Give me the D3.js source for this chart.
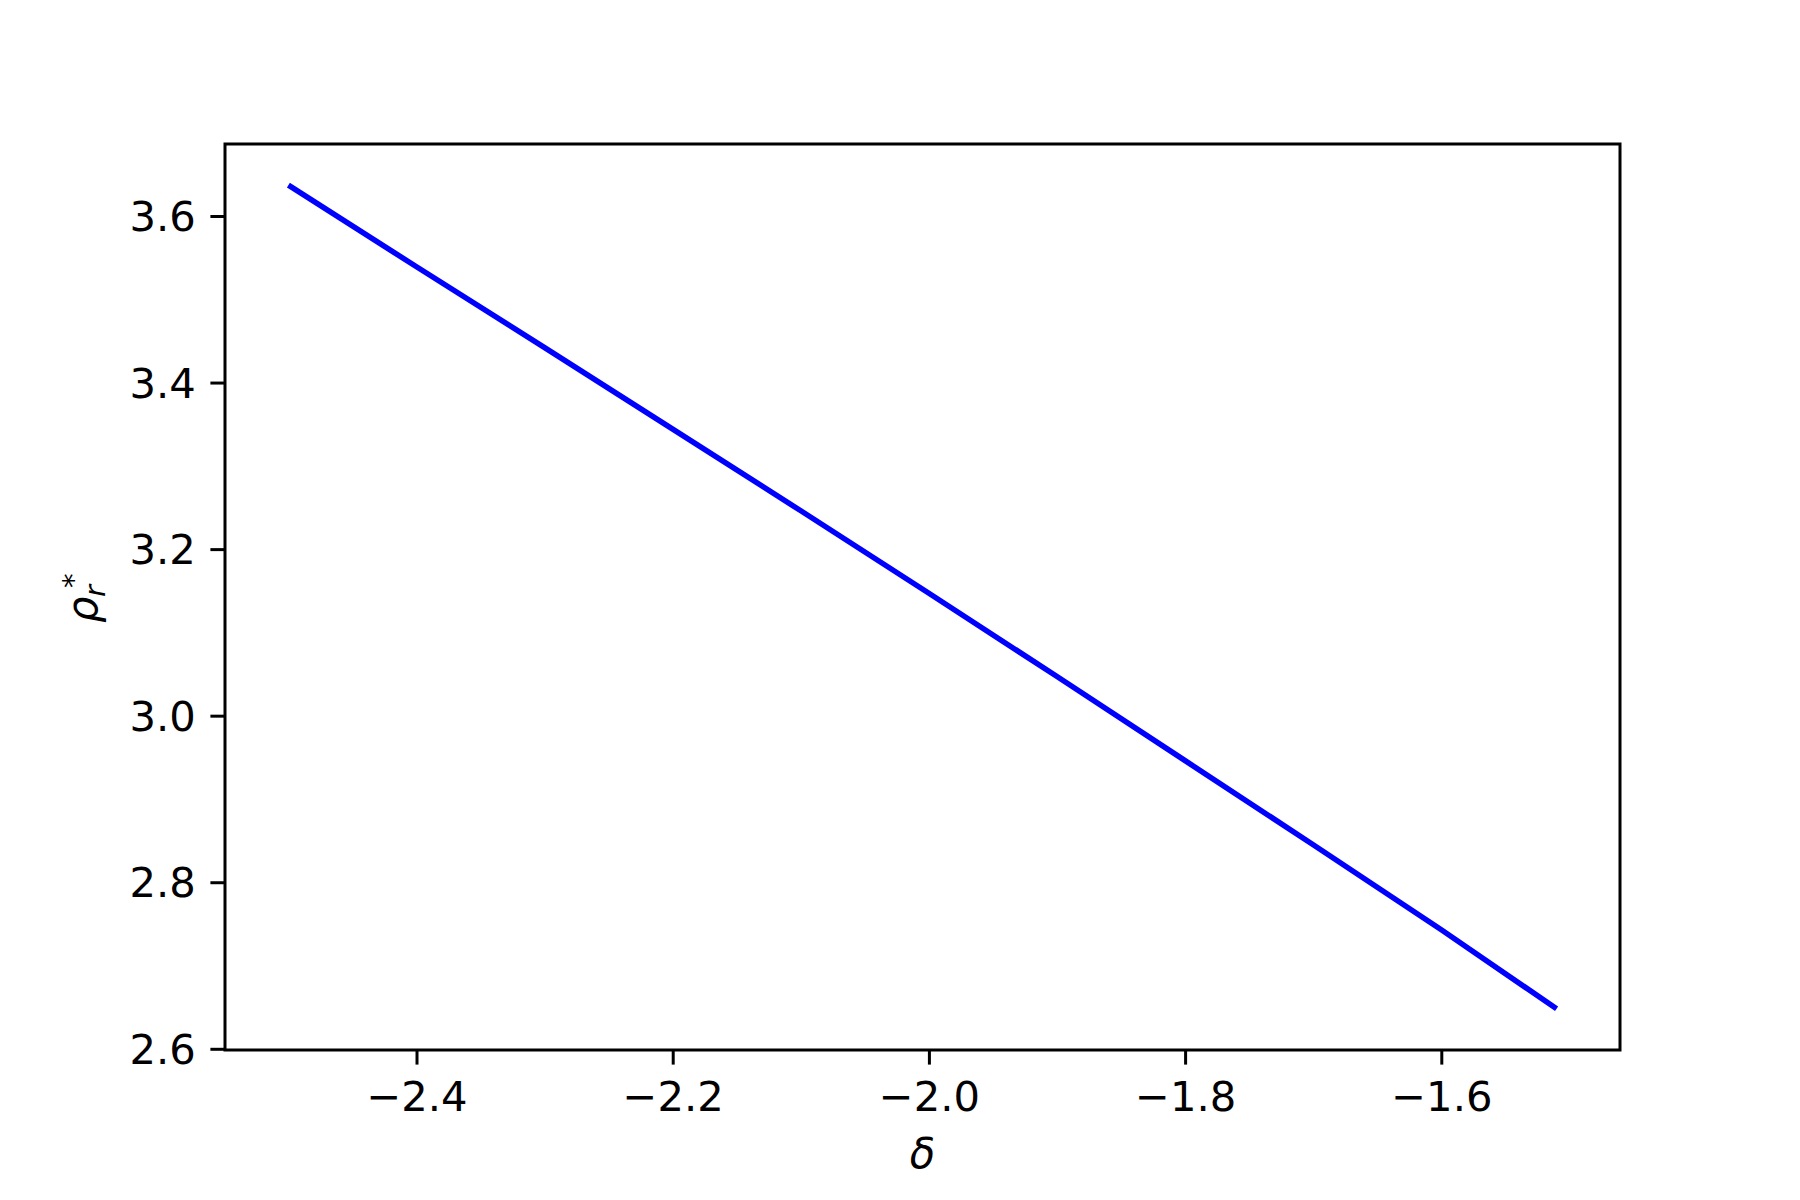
<!DOCTYPE html>
<html>
<head>
<meta charset="utf-8">
<script src="https://cdn.jsdelivr.net/npm/d3@7"></script>
<style>
  html, body { margin: 0; padding: 0; background: #fff; }
  svg { display: block; }
  text { font-family: "DejaVu Sans", sans-serif; fill: #000; }
</style>
</head>
<body>
<svg id="chart" width="1800" height="1200"></svg>
<script>
// Data
const deltaValues = [-2.5, -2.4, -2.3, -2.2, -2.1, -2.0, -1.9, -1.8, -1.7, -1.6, -1.51];
const rhoValues   = [3.637, 3.539, 3.442, 3.344, 3.246, 3.147, 3.047, 2.946, 2.845, 2.743, 2.648];
const xTicks = [-2.4, -2.2, -2.0, -1.8, -1.6];
const yTicks = [2.6, 2.8, 3.0, 3.2, 3.4, 3.6];

(function () {
const W = 1800, H = 1200;
const mLeft = 225, mRight = 1620, mTop = 144, mBottom = 1050;
const fs = 41.7;

const svg = d3.select("#chart");
svg.append("rect").attr("width", W).attr("height", H).attr("fill", "#fff");

function padded(arr) {
  const [a, b] = d3.extent(arr);
  const m = (b - a) * 0.05;
  return [a - m, b + m];
}

const x = d3.scaleLinear().domain(padded(deltaValues)).range([mLeft, mRight]);
const y = d3.scaleLinear().domain(padded(rhoValues)).range([mBottom, mTop]);

const fmt = d => d3.format(".1f")(d).replace("-", "\u2212");

// data line
const pts = deltaValues.map((d, i) => [d, rhoValues[i]]);
svg.append("path")
  .datum(pts)
  .attr("fill", "none")
  .attr("stroke", "#0000ff")
  .attr("stroke-width", 5.5)
  .attr("stroke-linecap", "butt")
  .attr("stroke-linejoin", "round")
  .attr("d", d3.line().x(d => x(d[0])).y(d => y(d[1])));

// axes
const xAxis = d3.axisBottom(x).tickValues(xTicks).tickFormat(fmt).tickSize(14.6).tickPadding(14.6);
const yAxis = d3.axisLeft(y).tickValues(yTicks).tickFormat(fmt).tickSize(14.6).tickPadding(14.6);

const gx = svg.append("g").attr("transform", `translate(0,${mBottom})`).call(xAxis);
const gy = svg.append("g").attr("transform", `translate(${mLeft},0)`).call(yAxis);

[gx, gy].forEach(g => {
  g.select(".domain").remove();
  g.selectAll(".tick line").attr("stroke", "#000").attr("stroke-width", 3);
  g.selectAll(".tick text")
    .style("font-family", "'DejaVu Sans', sans-serif")
    .style("font-size", fs + "px")
    .attr("fill", "#000");
});
gx.selectAll(".tick text").attr("dy", null).attr("y", 1110.5 - mBottom);
gy.selectAll(".tick text").attr("dy", "0.35em");

// frame
svg.append("rect")
  .attr("x", mLeft).attr("y", mTop)
  .attr("width", mRight - mLeft).attr("height", mBottom - mTop)
  .attr("fill", "none").attr("stroke", "#000").attr("stroke-width", 3);

// x label
svg.append("text")
  .attr("x", (mLeft + mRight) / 2).attr("y", 1168)
  .attr("text-anchor", "middle")
  .style("font-size", fs + "px")
  .style("font-style", "italic")
  .text("\u03b4");

// y label (rho_r^*)
const yl = svg.append("g").attr("transform", `translate(97, ${(mTop + mBottom) / 2}) rotate(-90)`);
yl.append("text").attr("x", -26).attr("y", 0)
  .style("font-size", fs + "px").style("font-style", "italic").text("\u03c1");
yl.append("text").attr("x", 0).attr("y", 8)
  .style("font-size", (fs * 0.7) + "px").style("font-style", "italic").text("r");
yl.append("text").attr("x", 9).attr("y", -14)
  .style("font-size", (fs * 0.7) + "px").text("*");
})();
</script>
</body>
</html>
